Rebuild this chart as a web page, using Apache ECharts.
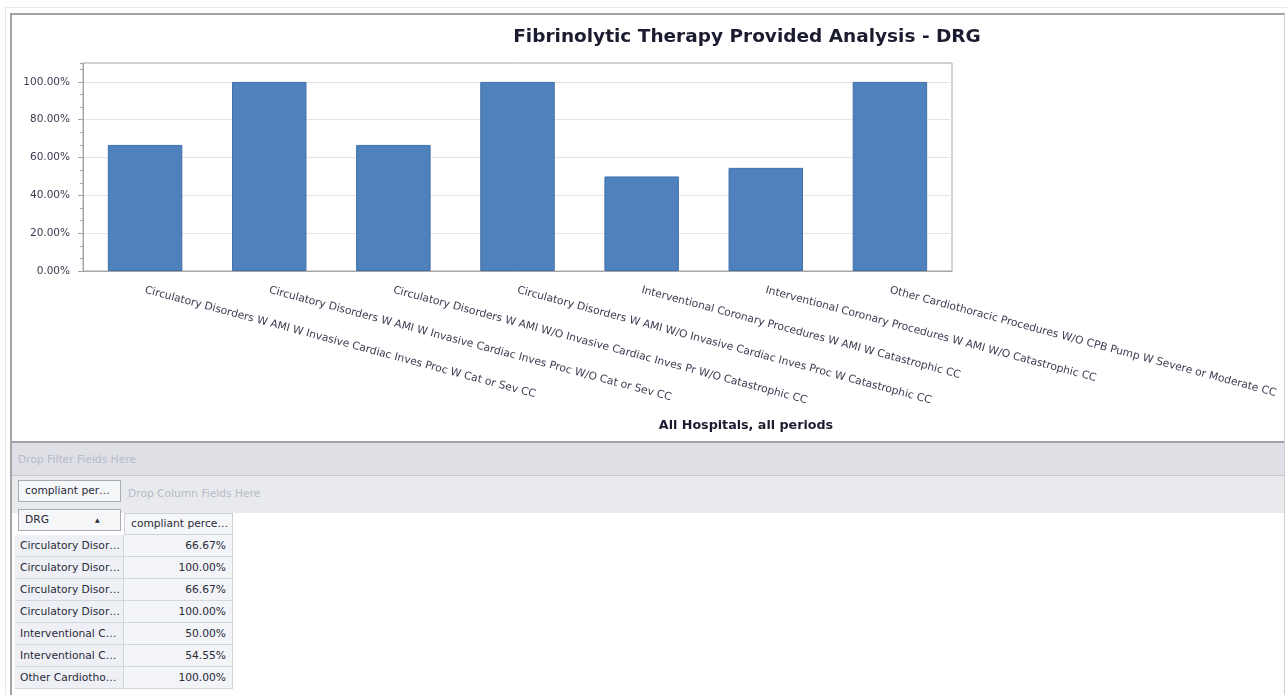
<!DOCTYPE html>
<html>
<head>
<meta charset="utf-8">
<script src="https://cdn.jsdelivr.net/npm/echarts@6/dist/echarts.min.js"></script>
<style>
  html, body { margin: 0; padding: 0; background: #fff; }
  body { width: 1287px; height: 695px; position: relative; overflow: hidden; font-family: "DejaVu Sans", sans-serif; }
  .abs { position: absolute; box-sizing: border-box; }
  #outer { left: 5px; top: 7px; width: 1282px; height: 688px; border-top: 1px solid #e8e8e8; border-left: 1px solid #e8e8e8; }
  #frame { left: 10px; top: 13px; width: 1275px; height: 682px; border-top: 2px solid #a4a4a4; border-left: 2px solid #a4a4a4; border-right: 1px solid #cfcfcf; }
  #chart { left: 12px; top: 15px; width: 1272px; height: 426px; }
  #divider { left: 12px; top: 441px; width: 1272px; height: 2px; background: #a3a4ab; }
  #filterBand { left: 12px; top: 443px; width: 1272px; height: 33px; background: #dfe0e6; border-bottom: 1px solid #c8c9cf; }
  #columnBand { left: 12px; top: 476px; width: 1272px; height: 37px; background: #e9eaee; }
  .hint { color: #b7bac6; font-size: 10.7px; white-space: nowrap; }
  .btn { background: #f5f6f8; border: 1px solid #a9abb3; color: #2a2a3a; font-size: 10.7px; line-height: 20px; padding-left: 6px; white-space: nowrap; overflow: hidden; }
  .cell { height: 22px; line-height: 21px; font-size: 10.7px; color: #2a2a3a; white-space: nowrap; overflow: hidden; text-overflow: ellipsis; border-right: 1px solid #d3d6de; border-bottom: 1px solid #d3d6de; }
  .rowHead { left: 15px; width: 109px; background: #eef0f5; padding-left: 5px; padding-right: 3px; }
  .rowVal { left: 124px; width: 109px; background: #f2f4f8; text-align: right; padding-right: 6px; }
</style>
</head>
<body>
<div id="outer" class="abs"></div>
<div id="frame" class="abs"></div>
<div id="chart" class="abs"></div>
<div id="divider" class="abs"></div>
<div id="filterBand" class="abs"></div>
<div id="columnBand" class="abs"></div>
<div id="grid"></div>
<script>
// DRG categories and the share of compliant cases for each
const categories = [
  'Circulatory Disorders W AMI W Invasive Cardiac Inves Proc W Cat or Sev CC',
  'Circulatory Disorders W AMI W Invasive Cardiac Inves Proc W/O Cat or Sev CC',
  'Circulatory Disorders W AMI W/O Invasive Cardiac Inves Pr W/O Catastrophic CC',
  'Circulatory Disorders W AMI W/O Invasive Cardiac Inves Proc W Catastrophic CC',
  'Interventional Coronary Procedures W AMI W Catastrophic CC',
  'Interventional Coronary Procedures W AMI W/O Catastrophic CC',
  'Other Cardiothoracic Procedures W/O CPB Pump W Severe or Moderate CC'
];
const compliantPct = [66.67, 100.00, 66.67, 100.00, 50.00, 54.55, 100.00];

const chartTitle = 'Fibrinolytic Therapy Provided Analysis - DRG';
const axisCaption = 'All Hospitals, all periods';

// pivot grid captions
const filterHint = 'Drop Filter Fields Here';
const columnHint = 'Drop Column Fields Here';
const dataFieldCaption = 'compliant percentage';
const rowFieldCaption = 'DRG';

const FONT = '"DejaVu Sans", sans-serif';
const AXIS_GRAY = '#a6a6a6';
const LABEL_COLOR = '#3b3b50';
const fmtPct = v => v.toFixed(2) + '%';

// minor tick slots along the category axis: five per category
const minorSlots = [];
categories.forEach(() => { for (let k = 0; k < 5; k++) minorSlots.push(''); });

const chart = echarts.init(document.getElementById('chart'), null, { renderer: 'canvas' });
chart.setOption({
  animation: false,
  title: [
    { text: chartTitle, left: 735, top: 13, padding: 0, textAlign: 'center', textVerticalAlign: 'top',
      textStyle: { fontFamily: FONT, fontWeight: 'bold', fontSize: 18.5, color: '#1c1c30' } },
    { text: axisCaption, left: 734, top: 404, padding: 0, textAlign: 'center', textVerticalAlign: 'top',
      textStyle: { fontFamily: FONT, fontWeight: 'bold', fontSize: 12.7, color: '#1c1c30' } }
  ],
  grid: { left: 71, top: 48, width: 869, height: 208, show: true, borderColor: AXIS_GRAY, borderWidth: 1, backgroundColor: '#fff' },
  xAxis: [
    {
      type: 'category', data: categories,
      axisLine: { lineStyle: { color: AXIS_GRAY } },
      axisTick: { alignWithLabel: true, length: 5, lineStyle: { color: AXIS_GRAY } },
      axisLabel: { interval: 0, rotate: -15, margin: 19, fontFamily: FONT, fontSize: 10.7, color: LABEL_COLOR },
      splitLine: { show: false }
    },
    {
      type: 'category', position: 'bottom', data: minorSlots,
      axisLine: { show: false },
      axisTick: { alignWithLabel: true, length: 3, lineStyle: { color: AXIS_GRAY } },
      axisLabel: { show: false }, splitLine: { show: false }
    }
  ],
  yAxis: [
    {
      type: 'value', min: 0, max: 110, interval: 20,
      axisLine: { show: true, lineStyle: { color: AXIS_GRAY } },
      axisTick: { show: true, length: 5, lineStyle: { color: AXIS_GRAY } },
      axisLabel: { showMaxLabel: false, margin: 13, fontFamily: FONT, fontSize: 10.5, color: LABEL_COLOR, formatter: fmtPct },
      splitLine: { show: true, showMinLine: false, showMaxLine: false, lineStyle: { color: '#e4e4e4' } }
    },
    {
      type: 'value', position: 'left', min: 0, max: 110, interval: 20 / 3,
      axisLine: { show: false },
      axisTick: { show: true, length: 3, lineStyle: { color: AXIS_GRAY } },
      axisLabel: { show: false }, splitLine: { show: false }
    }
  ],
  series: [{
    type: 'bar', data: compliantPct, xAxisIndex: 0, yAxisIndex: 0, barWidth: '60%',
    itemStyle: { color: '#4f81bd', borderColor: '#4170aa', borderWidth: 1 }
  }]
});

// pivot grid below the chart, built from the same arrays
const gridEl = document.getElementById('grid');
function add(cls, css, text) {
  const d = document.createElement('div');
  d.className = 'abs ' + cls;
  Object.assign(d.style, css);
  if (text !== undefined) d.textContent = text;
  gridEl.appendChild(d);
  return d;
}
add('hint', { left: '18px', top: '453px' }, filterHint);
add('hint', { left: '128px', top: '487px' }, columnHint);
add('btn', { left: '18px', top: '480px', width: '103px', height: '22px', textOverflow: 'ellipsis', paddingRight: '10px' }, dataFieldCaption);
const drg = add('btn', { left: '18px', top: '509px', width: '103px', height: '22px' }, rowFieldCaption);
const arrow = document.createElement('span');
arrow.textContent = '\u25B2';
Object.assign(arrow.style, { position: 'absolute', left: '76px', top: '0px', fontSize: '6px', color: '#2a2a3a' });
drg.appendChild(arrow);
add('btn', { left: '124px', top: '513px', width: '109px', height: '22px', borderColor: '#cfd2da', textOverflow: 'ellipsis', paddingLeft: '6px' }, dataFieldCaption);

const ROW_TOP = 535, ROW_H = 22;
categories.forEach((name, i) => {
  const top = (ROW_TOP + i * ROW_H) + 'px';
  add('cell rowHead', { top }, name);
  add('cell rowVal', { top }, fmtPct(compliantPct[i]));
});
</script>
</body>
</html>
